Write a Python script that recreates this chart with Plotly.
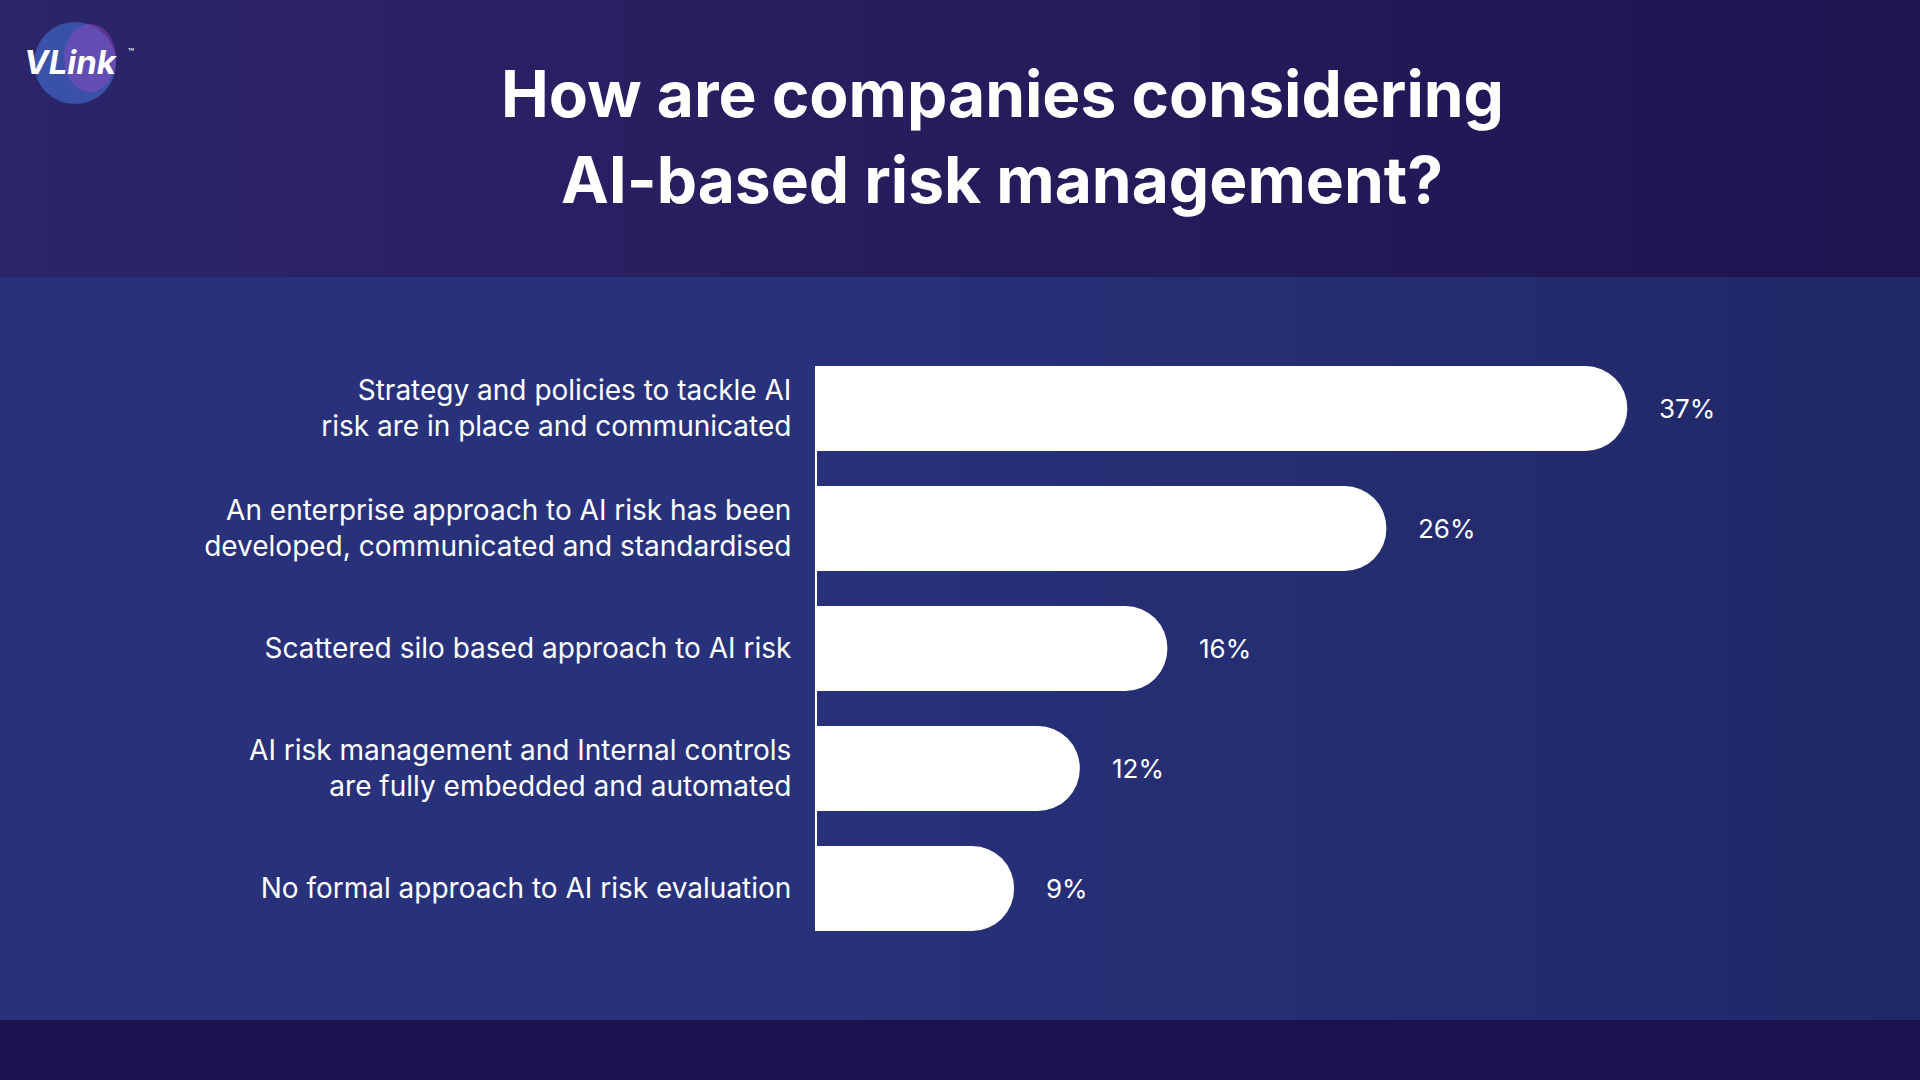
import plotly.graph_objects as go

# ---- data ----
categories = [
    "Strategy and policies to tackle AI<br>risk are in place and communicated",
    "An enterprise approach to AI risk has been<br>developed, communicated and standardised",
    "Scattered silo based approach to AI risk",
    "AI risk management and Internal controls<br>are fully embedded and automated",
    "No formal approach to AI risk evaluation",
]
values = [37, 26, 16, 12, 9]
title_lines = ["How are companies considering", "AI-based risk management?"]

W, H = 1920, 1080
PX_PER_UNIT = 21.9
AXIS_X = 817

fig = go.Figure()
fig.add_trace(go.Bar(
    y=categories, x=values, orientation="h",
    marker=dict(color="#ffffff", line=dict(width=0), cornerradius="50%"),
    hoverinfo="skip", showlegend=False,
))

# value labels
annotations = []
for c, v in zip(categories, values):
    annotations.append(dict(
        x=v, y=c, xref="x", yref="y", text=f"{v}%", showarrow=False,
        xanchor="left", yanchor="middle", xshift=30,
        font=dict(family="Inter", size=26, color="#ffffff"),
    ))

# title
for ln, yy in zip(title_lines, [93, 180]):
    annotations.append(dict(
        x=1002 / W, y=1 - yy / H, xref="paper", yref="paper",
        text=ln, showarrow=False, xanchor="center", yanchor="middle",
        font=dict(family="Inter", size=64, color="#ffffff", weight=700),
    ))
# logo text
annotations.append(dict(
    x=22 / W, y=1 - 62 / H, xref="paper", yref="paper",
    text="<i><b>VLink</b></i>", showarrow=False, xanchor="left", yanchor="middle",
    font=dict(family="Inter", size=33, color="#ffffff"),
))
annotations.append(dict(
    x=126 / W, y=1 - 52 / H, xref="paper", yref="paper",
    text="™", showarrow=False, xanchor="left", yanchor="middle",
    font=dict(family="Inter", size=10, color="#ffffff"),
))


def lerp(c1, c2, t):
    return "#%02x%02x%02x" % tuple(int(round(a + (b - a) * t)) for a, b in zip(c1, c2))


shapes = []
N = 40
header_l, header_r = (0x2d, 0x25, 0x6a), (0x1e, 0x14, 0x50)
body_l, body_m, body_r = (0x28, 0x31, 0x79), (0x28, 0x32, 0x7a), (0x21, 0x28, 0x67)
for i in range(N):
    t = (i + 0.5) / N
    x0, x1 = i / N, (i + 1) / N + 0.002
    shapes.append(dict(type="rect", xref="paper", yref="paper", x0=x0, x1=x1,
                       y0=1 - 277 / H, y1=1, fillcolor=lerp(header_l, header_r, t),
                       line=dict(width=0), layer="below"))
    bc = lerp(body_l, body_m, t / 0.4) if t < 0.4 else lerp(body_m, body_r, (t - 0.4) / 0.6)
    shapes.append(dict(type="rect", xref="paper", yref="paper", x0=x0, x1=x1,
                       y0=1 - 1020 / H, y1=1 - 277 / H, fillcolor=bc,
                       line=dict(width=0), layer="below"))
shapes.append(dict(type="rect", xref="paper", yref="paper", x0=0, x1=1,
                   y0=0, y1=1 - 1020 / H, fillcolor="#1c1250",
                   line=dict(width=0), layer="below"))
# logo globe
shapes.append(dict(type="circle", xref="paper", yref="paper",
                   x0=34 / W, x1=116 / W, y0=1 - 104 / H, y1=1 - 22 / H,
                   fillcolor="rgba(70,120,220,0.55)", line=dict(width=0), layer="below"))
shapes.append(dict(type="circle", xref="paper", yref="paper",
                   x0=64 / W, x1=116 / W, y0=1 - 92 / H, y1=1 - 24 / H,
                   fillcolor="rgba(150,70,190,0.45)", line=dict(width=0), layer="below"))

half = 85 / 120 / 2
fig.update_layout(
    width=W, height=H,
    margin=dict(l=0, r=0, t=0, b=0),
    paper_bgcolor="#252c70", plot_bgcolor="rgba(0,0,0,0)",
    bargap=1 - 85 / 120,
    shapes=shapes, annotations=annotations,
    xaxis=dict(domain=[AXIS_X / W, 1], range=[0, (W - AXIS_X) / PX_PER_UNIT],
               visible=False, fixedrange=True),
    yaxis=dict(domain=[1 - 931 / H, 1 - 366 / H], range=[4 + half, -half],
               showline=True, linecolor="#ffffff", linewidth=2,
               showgrid=False, zeroline=False,
               ticks="outside", ticklen=18, tickcolor="rgba(0,0,0,0)",
               tickfont=dict(family="Inter", size=28, color="#ffffff")),
    font=dict(family="Inter", color="#ffffff"),
)
fig.write_html("out.html")
